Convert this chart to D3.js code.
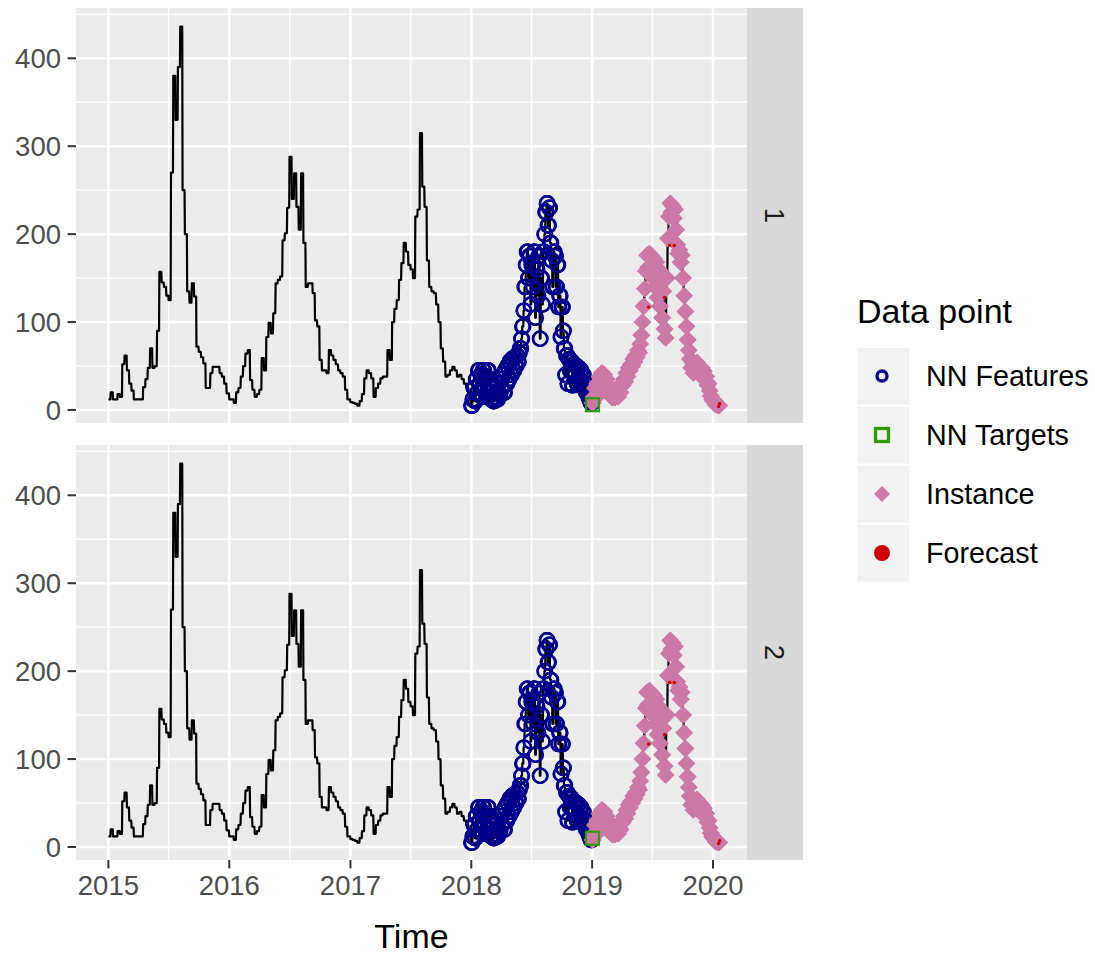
<!DOCTYPE html>
<html><head><meta charset="utf-8">
<script src="https://cdn.jsdelivr.net/npm/d3@7"></script>
<style>body{margin:0;background:#fff} svg{display:block}</style>
</head><body><svg id="chart" width="1095" height="957"></svg>
<script>
// ---------------- data ----------------
const yearTicks = ["2015", "2016", "2017", "2018", "2019", "2020"];
const yTicks = [0, 100, 200, 300, 400];
const panelLabels = ["1", "2"];
const legendLabels = ["NN Features", "NN Targets", "Instance", "Forecast"];

// weekly values (value j covers Jan 1 + 7j days)
const series2015 = [12,20,12,12,18,15,52,62,45,30, 22,12,12,12,12,26,35,48,70,48,
  50,90,157,145,140,130,125,270,380,330, 390,436,250,200,135,122,144,129,72,66,
  60,53,25,25,42,49,49,49,42,38, 30,19];
const series2016 = [12,12,8,20,25,38,50,64,68,34, 23,15,18,23,59,45,83,99,87,110,
  144,148,152,193,201,230,288,240,269,231, 205,269,190,140,144,144,133,102,95,57,
  45,45,42,68,62,57,52,45,42,38, 23,12];
const series2017 = [9,8,7,5,10,18,36,45,42,36, 15,25,30,36,38,38,68,57,100,115,
  125,148,167,190,180,165,160,150,220,228, 315,254,231,170,140,135,133,120,100,70,
  55,38,40,45,49,45,38,40,35,30, 25,18];
// half-weekly values (value h covers Jan 1 + 3.5h days)
const series2018 = [5,12,25,10,35,20,45,30,40,15, 45,25,38,15,45,30,35,12,25,10,
  15,20,12,30,18,35,25,40,20,45, 30,50,35,55,40,58,45,60,50,62,55,65,
  70,81,95,113,140,165,180,150,175,120, 165,140,180,105,160,130,175,81,150,120,
  180,200,225,235,210,230,190,170,140,180, 175,140,165,117,130,83,117,90,
  70,40,62,30,58,45,55,28,52,40,50,30,48,35,45,28,40,25,30,20,22,15,12,8];
const series2019 = [8,15,25,14,30,20,38,28,42,30, 40,30,35,22,28,17,22,14,18,14,
  16,20,15,25,20,30,28,35,32,42, 38,48,45,52,50,58,55,62,60,68,65,75,
  85,100,118,138,
  158,176,162,178,160,175,150,172,140,168,128,160,118,150,105,135,92,82,
  150,195,220,235,225,232,218,228,
  205,188,178,182,168,176,150,130,112,95,80,68,
  58,48,55,42,52,46,54,42,50,44,48,38,44,34,38,28,30,22,16,12];
const series2020 = [10, 6, 5];  // weekly

const featureYear = 2018;            // NN features: the 2018 values
const instanceStart = "2019-01-01";  // instance: from 2019 on
const targetDate = "2019-01-02";
const targetValues = [6, 10];        // NN target per panel
const forecastDates = ["2019-06-21","2019-08-08","2019-08-23","2019-09-06","2020-01-18","2020-01-21"];
const forecastValues = [117, 128, 187, 187, 4, 7];

// ---------------- build daily series ----------------
const yearly = [[2015,series2015,7],[2016,series2016,7],[2017,series2017,7],[2018,series2018,3.5],[2019,series2019,3.5],[2020,series2020,7]];
const daily = [];
yearly.forEach(([yr, vals, step]) => {
  const start = new Date(Date.UTC(yr, 0, 1));
  const nDays = yr === 2020 ? vals.length * step : d3.utcDay.count(start, new Date(Date.UTC(yr + 1, 0, 1)));
  for (let d = 0; d < nDays; d++) {
    daily.push({date: d3.utcDay.offset(start, d), value: vals[Math.min(Math.floor(d / step), vals.length - 1)], year: yr});
  }
});
const features = daily.filter(d => d.year === featureYear);
const instStart = new Date(instanceStart + "T00:00:00Z");
const instance = daily.filter(d => d.date >= instStart);
const forecast = forecastDates.map((s, i) => ({date: new Date(s + "T00:00:00Z"), value: forecastValues[i]}));

// ---------------- layout ----------------
const FONT = "'Liberation Sans', Arial, sans-serif";
const pL = 76, pR = 747, pH = 415;
const panelTops = [8, 445];
const stripW = 56;
const cNavy = "#00008B", cGreen = "#2E9B00", cPink = "#CC79A7", cRed = "#CC0000";

const svg = d3.select("#chart");

const x = d3.scaleUtc()
  .domain([new Date(Date.UTC(2015,0,1)), new Date(Date.UTC(2020,0,1))])
  .range([108.4, 713]);
x.domain([x.invert(pL), x.invert(pR)]).range([pL, pR]);

const yearDates = yearTicks.map(t => new Date(Date.UTC(+t, 0, 1)));
const midDates = yearTicks.slice(0, -1).map(t => new Date(Date.UTC(+t, 6, 2)));
const yMinor = [50, 150, 250, 350, 450];

panelTops.forEach((top, pi) => {
  const y = d3.scaleLinear().domain([-14.8, 457.2]).range([top + pH, top]);
  const g = svg.append("g");
  const clipId = "clip" + pi;
  svg.append("clipPath").attr("id", clipId).append("rect")
    .attr("x", pL).attr("y", top).attr("width", pR - pL).attr("height", pH);

  g.append("rect").attr("x", pL).attr("y", top).attr("width", pR - pL).attr("height", pH).attr("fill", "#EBEBEB");

  const grid = g.append("g").attr("clip-path", `url(#${clipId})`);
  grid.selectAll(".ymin").data(yMinor).join("line")
    .attr("x1", pL).attr("x2", pR).attr("y1", d => y(d)).attr("y2", d => y(d))
    .attr("stroke", "#fff").attr("stroke-width", 1.3);
  grid.selectAll(".xmin").data(midDates).join("line")
    .attr("x1", d => x(d)).attr("x2", d => x(d)).attr("y1", top).attr("y2", top + pH)
    .attr("stroke", "#fff").attr("stroke-width", 1.3);
  grid.selectAll(".ymaj").data(yTicks).join("line")
    .attr("x1", pL).attr("x2", pR).attr("y1", d => y(d)).attr("y2", d => y(d))
    .attr("stroke", "#fff").attr("stroke-width", 2.6);
  grid.selectAll(".xmaj").data(yearDates).join("line")
    .attr("x1", d => x(d)).attr("x2", d => x(d)).attr("y1", top).attr("y2", top + pH)
    .attr("stroke", "#fff").attr("stroke-width", 2.6);

  const marks = g.append("g").attr("clip-path", `url(#${clipId})`);
  marks.append("path").datum(daily)
    .attr("d", d3.line().x(d => x(d.date)).y(d => y(d.value)))
    .attr("fill", "none").attr("stroke", "#000").attr("stroke-width", 2.2)
    .attr("stroke-linejoin", "round");

  marks.selectAll(".feat").data(features).join("circle")
    .attr("cx", d => x(d.date)).attr("cy", d => y(d.value)).attr("r", 7.2)
    .attr("fill", "none").attr("stroke", cNavy).attr("stroke-width", 2.1);

  marks.selectAll(".inst").data(instance).join("path")
    .attr("transform", d => `translate(${x(d.date)},${y(d.value)})`)
    .attr("d", "M0,-8.5L8.5,0L0,8.5L-8.5,0Z").attr("fill", cPink);

  const td = new Date(targetDate + "T00:00:00Z");
  marks.append("rect")
    .attr("x", x(td) - 6.5).attr("y", y(targetValues[pi]) - 6.5)
    .attr("width", 13).attr("height", 13)
    .attr("fill", "none").attr("stroke", cGreen).attr("stroke-width", 2.2);

  marks.selectAll(".fc").data(forecast).join("circle")
    .attr("cx", d => x(d.date)).attr("cy", d => y(d.value)).attr("r", 1.8)
    .attr("fill", cRed);

  // strip
  g.append("rect").attr("x", pR).attr("y", top).attr("width", stripW).attr("height", pH).attr("fill", "#D9D9D9");
  g.append("text")
    .attr("transform", `translate(${pR + stripW / 2},${top + pH / 2}) rotate(90)`)
    .attr("text-anchor", "middle").attr("dy", "0.35em")
    .attr("font-family", FONT).attr("font-size", 27.5).attr("fill", "#1A1A1A")
    .text(panelLabels[pi]);

  // y axis
  const ya = g.append("g");
  ya.selectAll("line").data(yTicks).join("line")
    .attr("x1", pL - 8.4).attr("x2", pL).attr("y1", d => y(d)).attr("y2", d => y(d))
    .attr("stroke", "#333").attr("stroke-width", 2);
  ya.selectAll("text").data(yTicks).join("text")
    .attr("x", pL - 15).attr("y", d => y(d) + 10)
    .attr("text-anchor", "end").attr("font-family", FONT).attr("font-size", 27.5).attr("fill", "#4D4D4D")
    .text(d => d);
});

// x axis (bottom panel)
const bottom = panelTops[1] + pH;
const xa = svg.append("g");
xa.selectAll("line").data(yearDates).join("line")
  .attr("x1", d => x(d)).attr("x2", d => x(d)).attr("y1", bottom).attr("y2", bottom + 8.4)
  .attr("stroke", "#333").attr("stroke-width", 2);
xa.selectAll("text").data(yearTicks).join("text")
  .attr("x", (d, i) => x(yearDates[i])).attr("y", bottom + 35)
  .attr("text-anchor", "middle").attr("font-family", FONT).attr("font-size", 27.5).attr("fill", "#4D4D4D")
  .text(d => d);
svg.append("text").attr("x", (pL + pR) / 2).attr("y", 948)
  .attr("text-anchor", "middle").attr("font-family", FONT).attr("font-size", 34).attr("fill", "#000")
  .text("Time");

// legend
const lg = svg.append("g");
lg.append("text").attr("x", 857).attr("y", 323)
  .attr("font-family", FONT).attr("font-size", 34).attr("fill", "#000").text("Data point");
const keyTops = legendLabels.map((_, i) => 348 + i * 59);
lg.selectAll("rect.key").data(legendLabels).join("rect")
  .attr("x", 857.5).attr("y", (d, i) => keyTops[i]).attr("width", 51.5).attr("height", 56.5).attr("fill", "#F2F2F2");
const kx = 882;
const kc = i => keyTops[i] + 28;
lg.append("circle").attr("cx", kx).attr("cy", kc(0)).attr("r", 5).attr("fill", "none").attr("stroke", cNavy).attr("stroke-width", 3.3);
lg.append("rect").attr("x", kx - 6.5).attr("y", kc(1) - 6.5).attr("width", 13).attr("height", 13)
  .attr("fill", "none").attr("stroke", cGreen).attr("stroke-width", 3.3);
lg.append("path").attr("transform", `translate(${kx},${kc(2)})`).attr("d", "M0,-8L8,0L0,8L-8,0Z").attr("fill", cPink);
lg.append("circle").attr("cx", kx).attr("cy", kc(3)).attr("r", 8).attr("fill", cRed);
lg.selectAll("text.lab").data(legendLabels).join("text")
  .attr("x", 926).attr("y", (d, i) => kc(i) + 10.3)
  .attr("font-family", FONT).attr("font-size", 28.7).attr("fill", "#000")
  .text(d => d);
</script>
</body></html>
